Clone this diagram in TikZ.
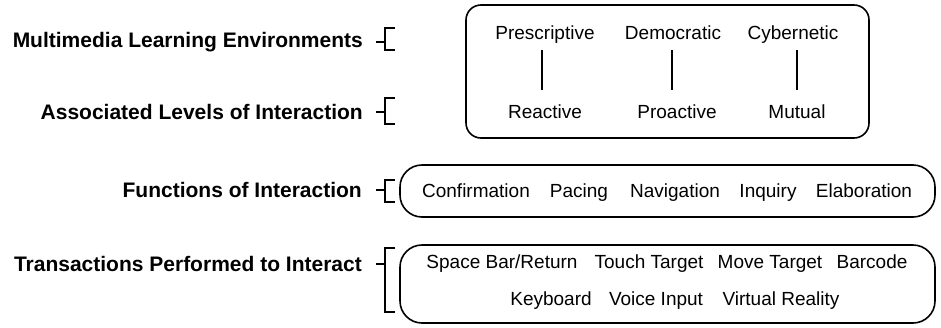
\documentclass[tikz,border=0pt]{standalone}
\usepackage{fontspec}
\setmainfont{Liberation Sans}
\usetikzlibrary{calc}
\begin{document}
\begin{tikzpicture}[x=1pt,y=-1pt,
  lab/.style={font=\fontsize{21}{24}\selectfont\bfseries, anchor=base east, inner sep=0pt},
  itm/.style={font=\fontsize{19}{22}\selectfont, anchor=base, inner sep=0pt},
  frame/.style={draw, line width=1.6pt, minimum width=#1},
  brk/.style={line width=1.6pt},
  link/.style={line width=1.6pt}]
\useasboundingbox (0,0) rectangle (941,327);
% labels
\node[lab] (l1) at (363,47) {Multimedia Learning Environments};
\node[lab] (l2) at (363,119) {Associated Levels of Interaction};
\node[lab] (l3) at (362,197) {Functions of Interaction};
\node[lab] (l4) at (362,271) {Transactions Performed to Interact};
% brackets
\foreach \n/\y/\t/\b in {1/42/28/50, 2/112/98/124, 3/190/180/202, 4/264/248/312}{
  \coordinate (d\n) at (376,\y);
  \coordinate (v\n) at (385,\y);
  \draw[brk] (d\n) -- (v\n);
  \draw[brk] (395,\t) -- (385,\t) -- (385,\b) -- (395,\b);
}
% boxes
\node[frame=403pt, minimum height=133pt, rounded corners=15pt] (b1) at (667.5,71.5) {};
\node[frame=535pt, minimum height=52pt, rounded corners=22pt] (b3) at (667.5,191) {};
\node[frame=535pt, minimum height=78pt, rounded corners=22pt] (b4) at (667.5,284) {};
% box 1 content
\node[itm] (presc) at (545,39) {Prescriptive};
\node[itm] (demo) at (673,39) {Democratic};
\node[itm] (cyber) at (793,39) {Cybernetic};
\node[itm] (react) at (545,118) {Reactive};
\node[itm] (proact) at (677,118) {Proactive};
\node[itm] (mutual) at (797,118) {Mutual};
\draw[link] ($(presc.base)+(-3,11)$) -- ($(react.base)+(-3,-28)$);
\draw[link] ($(demo.base)+(-1,11)$) -- ($(proact.base)+(-5,-28)$);
\draw[link] ($(cyber.base)+(4,11)$) -- ($(mutual.base)+(0,-28)$);
% box 3 content
\node[itm] (conf) at (476,197) {Confirmation};
\node[itm] (pace) at (579,197) {Pacing};
\node[itm] (nav) at (675,197) {Navigation};
\node[itm] (inq) at (768,197) {Inquiry};
\node[itm] (elab) at (864,197) {Elaboration};
% box 4 content
\node[itm] (space) at (502,268) {Space Bar/Return};
\node[itm] (touch) at (649,268) {Touch Target};
\node[itm] (move) at (770,268) {Move Target};
\node[itm] (bar) at (872,268) {Barcode};
\node[itm] (key) at (551,305) {Keyboard};
\node[itm] (voice) at (656,305) {Voice Input};
\node[itm] (virt) at (781,305) {Virtual Reality};
\end{tikzpicture}
\end{document}
